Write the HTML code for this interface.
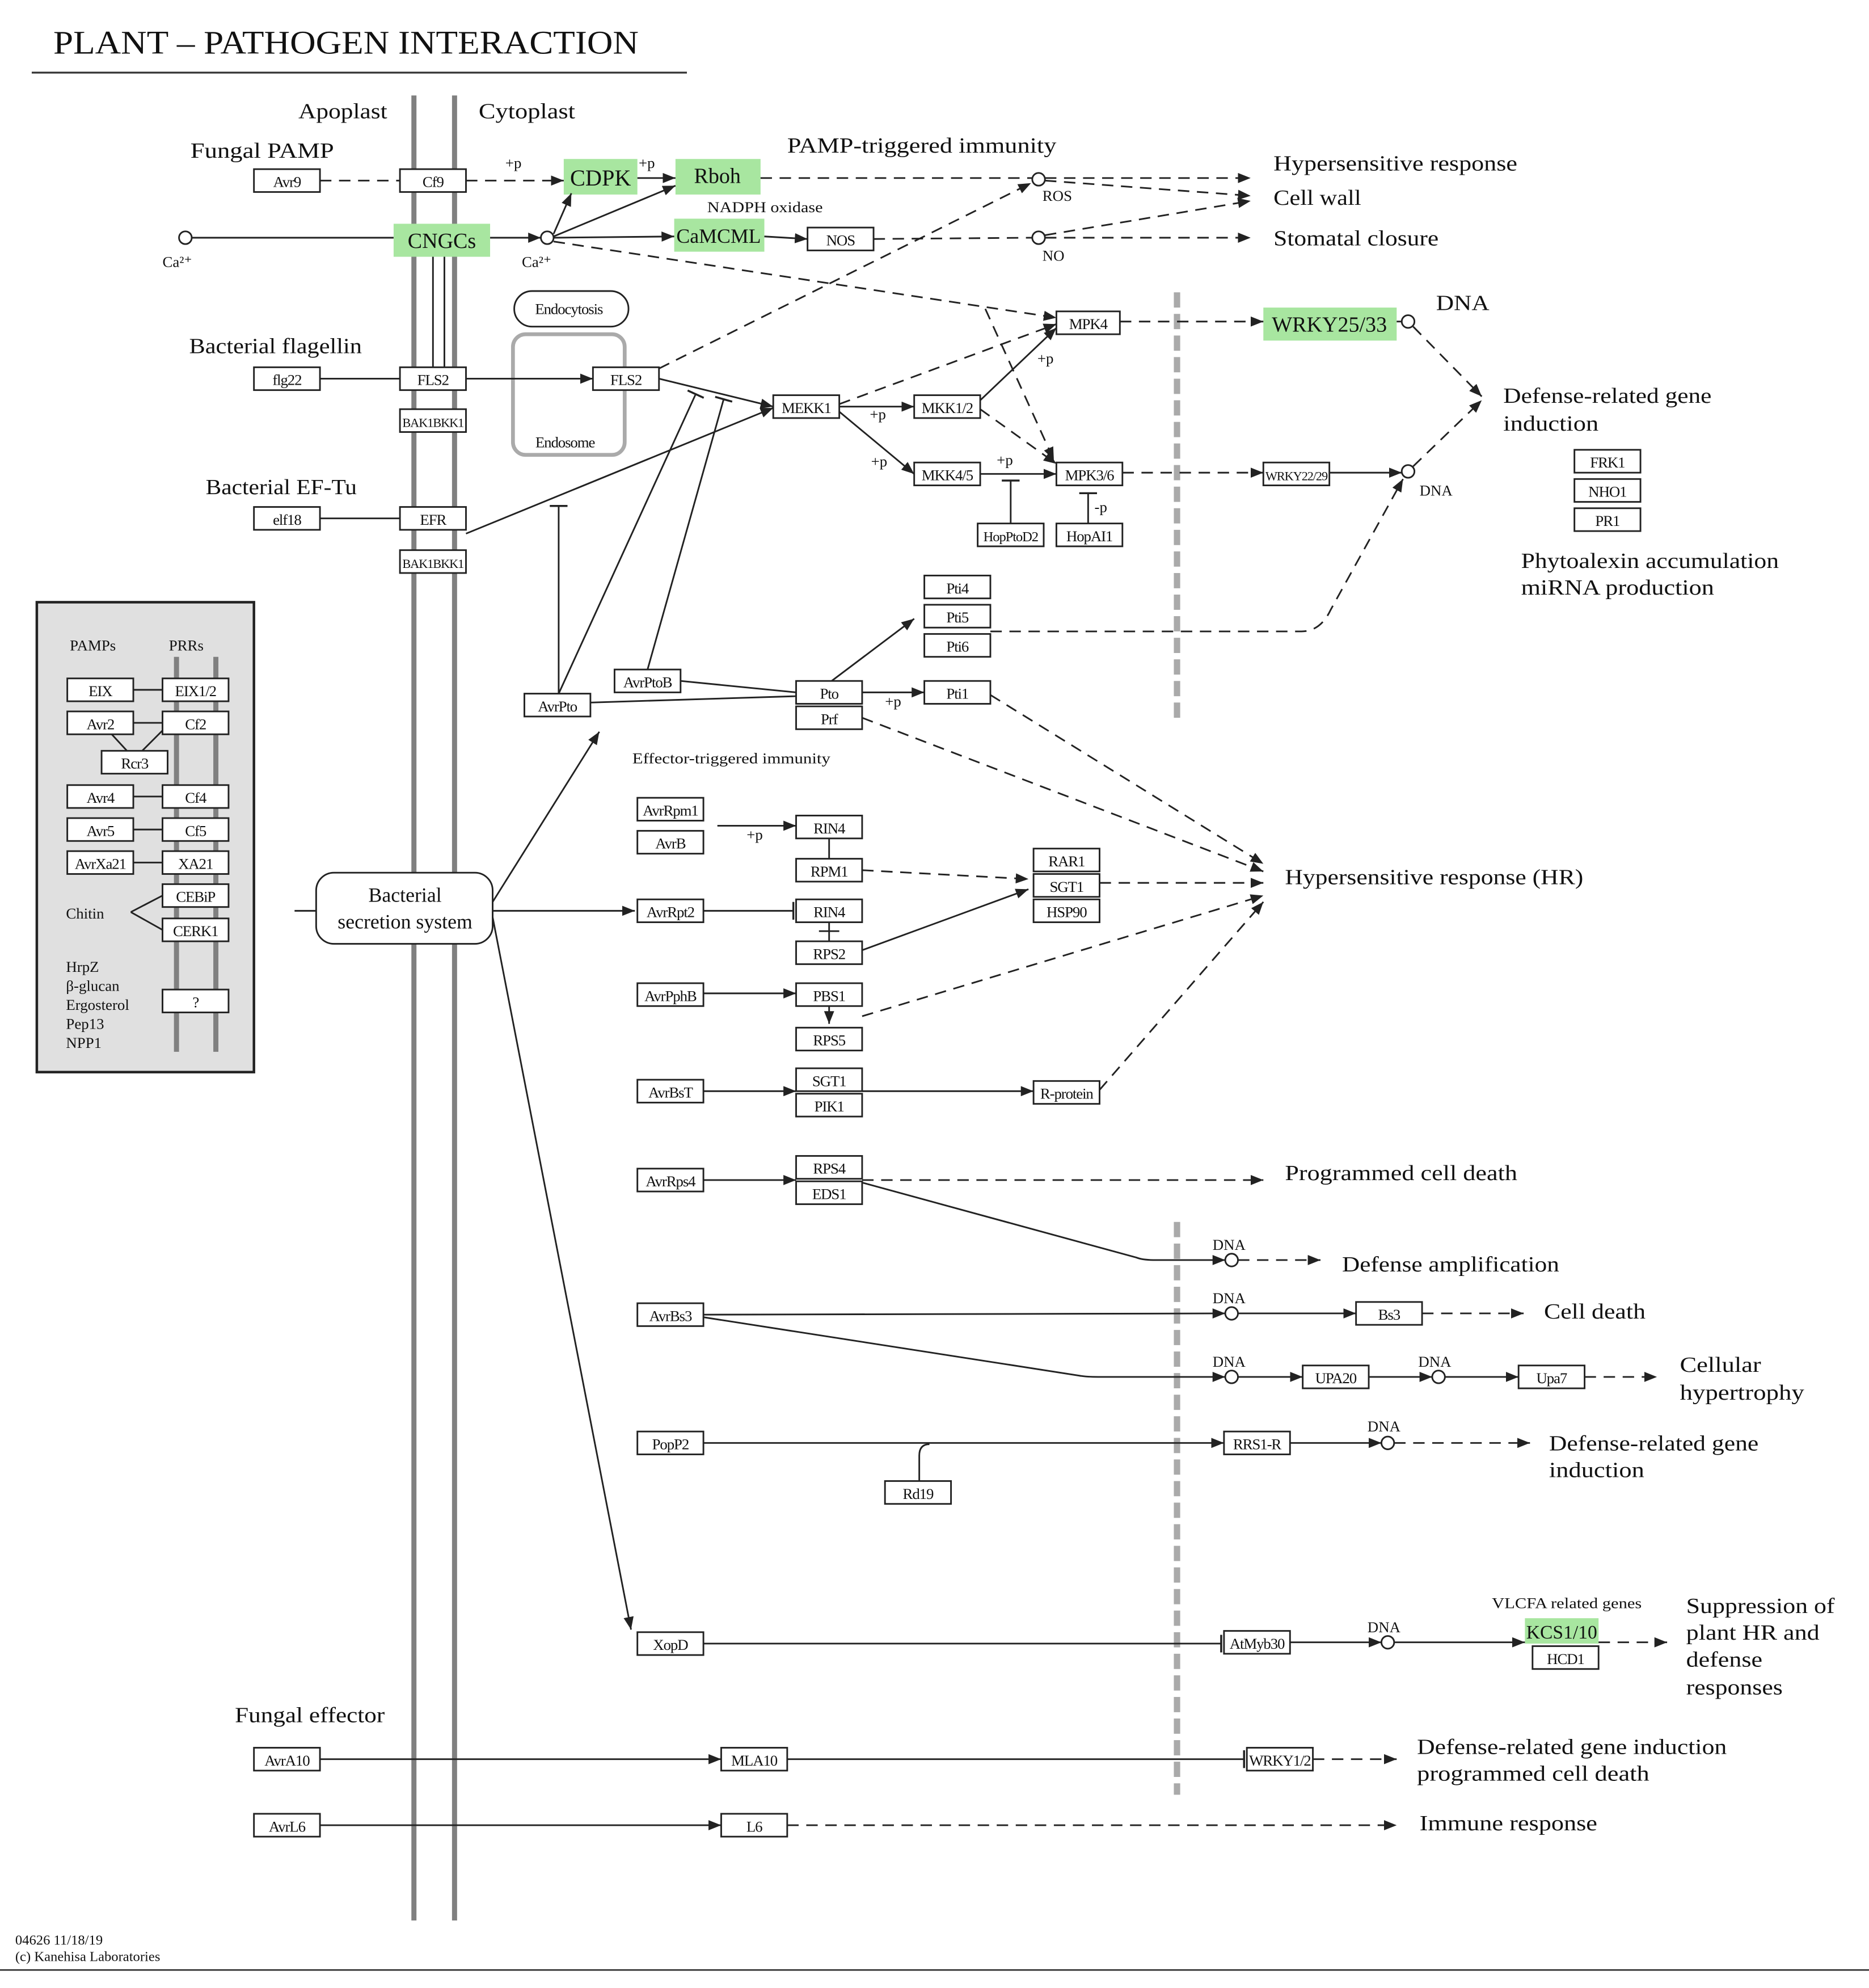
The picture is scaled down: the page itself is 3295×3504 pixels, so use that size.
<!DOCTYPE html>
<html><head><meta charset="utf-8">
<style>
html,body{margin:0;padding:0;background:#fff;}
svg{display:block;}
text{font-family:"Liberation Serif",serif;fill:#111;}
.b{fill:#fff;stroke:#222;stroke-width:1.3;}
.g{fill:#a8e6a0;stroke:none;}
.t{font-size:12px;text-anchor:middle;letter-spacing:-0.5px;}
.tg{font-size:17px;text-anchor:middle;}
.l{font-size:17px;}
.s{font-size:12px;}
.ln{stroke:#222;stroke-width:1.3;fill:none;}
.d{stroke:#222;stroke-width:1.3;fill:none;stroke-dasharray:9,6;}
.c{fill:#fff;stroke:#222;stroke-width:1.3;}
</style></head><body>
<svg width="3295" height="3504" viewBox="0 0 1472 1565" xmlns="http://www.w3.org/2000/svg">
<defs>
<marker id="a" markerWidth="10" markerHeight="8" refX="10" refY="4" orient="auto" markerUnits="userSpaceOnUse"><path d="M0,0 L10,4 L0,8 z" fill="#222"/></marker>
<marker id="i" markerWidth="2" markerHeight="14" refX="1" refY="7" orient="auto" markerUnits="userSpaceOnUse"><rect x="0" y="0" width="1.6" height="14" fill="#222"/></marker>
</defs>
<rect width="1472" height="1565" fill="#fff"/>
<!-- title -->
<text x="42" y="42" style="font-size:26px" textLength="461" lengthAdjust="spacingAndGlyphs">PLANT – PATHOGEN INTERACTION</text>
<line x1="25" y1="57" x2="541" y2="57" stroke="#333" stroke-width="1.5"/>
<text x="12" y="1531" style="font-size:11px">04626 11/18/19</text>
<text x="12" y="1544" style="font-size:11px">(c) Kanehisa Laboratories</text>
<line x1="0" y1="1551" x2="1472" y2="1551" stroke="#333" stroke-width="1.2"/>

<!-- membranes -->
<line x1="326" y1="75" x2="326" y2="1512" stroke="#808080" stroke-width="4"/>
<line x1="358" y1="75" x2="358" y2="1512" stroke="#808080" stroke-width="4"/>
<line x1="927" y1="230" x2="927" y2="566" stroke="#aaa" stroke-width="5" stroke-dasharray="12,5"/>
<line x1="927" y1="962" x2="927" y2="1413" stroke="#aaa" stroke-width="5" stroke-dasharray="12,5"/>
<line x1="341" y1="200" x2="341" y2="289" class="ln"/>
<line x1="350" y1="200" x2="350" y2="289" class="ln"/>

<!-- labels -->
<g lengthAdjust="spacingAndGlyphs">
<text x="235" y="93" class="l" textLength="70" lengthAdjust="spacingAndGlyphs">Apoplast</text>
<text x="377" y="93" class="l" textLength="76" lengthAdjust="spacingAndGlyphs">Cytoplast</text>
<text x="150" y="124" class="l" textLength="113" lengthAdjust="spacingAndGlyphs">Fungal PAMP</text>
<text x="620" y="120" class="l" textLength="212" lengthAdjust="spacingAndGlyphs">PAMP-triggered immunity</text>
<text x="557" y="167" class="s" textLength="91" lengthAdjust="spacingAndGlyphs">NADPH oxidase</text>
<text x="821" y="158" class="s">ROS</text>
<text x="128" y="210" class="s">Ca²⁺</text>
<text x="411" y="210" class="s">Ca²⁺</text>
<text x="821" y="205" class="s">NO</text>
<text x="1003" y="134" class="l" textLength="192" lengthAdjust="spacingAndGlyphs">Hypersensitive response</text>
<text x="1003" y="161" class="l" textLength="69" lengthAdjust="spacingAndGlyphs">Cell wall</text>
<text x="1003" y="193" class="l" textLength="130" lengthAdjust="spacingAndGlyphs">Stomatal closure</text>
<text x="1131" y="244" class="l" textLength="42" lengthAdjust="spacingAndGlyphs">DNA</text>
<text x="1184" y="317" class="l" textLength="164" lengthAdjust="spacingAndGlyphs">Defense-related gene</text>
<text x="1184" y="339" class="l" textLength="75" lengthAdjust="spacingAndGlyphs">induction</text>
<text x="1118" y="390" class="s">DNA</text>
<text x="1198" y="447" class="l" textLength="203" lengthAdjust="spacingAndGlyphs">Phytoalexin accumulation</text>
<text x="1198" y="468" class="l" textLength="152" lengthAdjust="spacingAndGlyphs">miRNA production</text>
<text x="149" y="278" class="l" textLength="136" lengthAdjust="spacingAndGlyphs">Bacterial flagellin</text>
<text x="162" y="389" class="l" textLength="119" lengthAdjust="spacingAndGlyphs">Bacterial EF-Tu</text>
<text x="498" y="601" class="s" textLength="156" lengthAdjust="spacingAndGlyphs">Effector-triggered immunity</text>
<text x="1012" y="696" class="l" textLength="235" lengthAdjust="spacingAndGlyphs">Hypersensitive response (HR)</text>
<text x="1012" y="929" class="l" textLength="183" lengthAdjust="spacingAndGlyphs">Programmed cell death</text>
<text x="955" y="984" class="s">DNA</text>
<text x="1057" y="1001" class="l" textLength="171" lengthAdjust="spacingAndGlyphs">Defense amplification</text>
<text x="955" y="1026" class="s">DNA</text>
<text x="1216" y="1038" class="l" textLength="80" lengthAdjust="spacingAndGlyphs">Cell death</text>
<text x="955" y="1076" class="s">DNA</text>
<text x="1117" y="1076" class="s">DNA</text>
<text x="1323" y="1080" class="l" textLength="64" lengthAdjust="spacingAndGlyphs">Cellular</text>
<text x="1323" y="1102" class="l" textLength="98" lengthAdjust="spacingAndGlyphs">hypertrophy</text>
<text x="1077" y="1127" class="s">DNA</text>
<text x="1220" y="1142" class="l" textLength="165" lengthAdjust="spacingAndGlyphs">Defense-related gene</text>
<text x="1220" y="1163" class="l" textLength="75" lengthAdjust="spacingAndGlyphs">induction</text>
<text x="1175" y="1266" class="s" textLength="118" lengthAdjust="spacingAndGlyphs">VLCFA related genes</text>
<text x="1077" y="1285" class="s">DNA</text>
<text x="1328" y="1270" class="l" textLength="117" lengthAdjust="spacingAndGlyphs">Suppression of</text>
<text x="1328" y="1291" class="l" textLength="105" lengthAdjust="spacingAndGlyphs">plant HR and</text>
<text x="1328" y="1312" class="l" textLength="60" lengthAdjust="spacingAndGlyphs">defense</text>
<text x="1328" y="1334" class="l" textLength="76" lengthAdjust="spacingAndGlyphs">responses</text>
<text x="185" y="1356" class="l" textLength="118" lengthAdjust="spacingAndGlyphs">Fungal effector</text>
<text x="1116" y="1381" class="l" textLength="244" lengthAdjust="spacingAndGlyphs">Defense-related gene induction</text>
<text x="1116" y="1402" class="l" textLength="183" lengthAdjust="spacingAndGlyphs">programmed cell death</text>
<text x="1118" y="1441" class="l" textLength="140" lengthAdjust="spacingAndGlyphs">Immune response</text>
</g>
<text x="398" y="132" class="s">+p</text>
<text x="503" y="132" class="s">+p</text>
<text x="685" y="330" class="s">+p</text>
<text x="686" y="367" class="s">+p</text>
<text x="817" y="286" class="s">+p</text>
<text x="785" y="366" class="s">+p</text>
<text x="862" y="403" class="s">-p</text>
<text x="697" y="556" class="s">+p</text>
<text x="588" y="661" class="s">+p</text>

<!-- endocytosis -->
<rect x="405" y="229" width="90" height="28" rx="14" class="b"/>
<text x="448" y="247" class="t">Endocytosis</text>
<rect x="404" y="263" width="88" height="95" rx="10" fill="none" stroke="#aaa" stroke-width="3"/>
<text x="445" y="352" class="t">Endosome</text>

<!-- left panel -->
<rect x="29" y="474" width="171" height="370" fill="#e0e0e0" stroke="#222" stroke-width="2"/>
<line x1="139" y1="517" x2="139" y2="828" stroke="#808080" stroke-width="4"/>
<line x1="170" y1="517" x2="170" y2="828" stroke="#808080" stroke-width="4"/>
<text x="55" y="512" class="s">PAMPs</text>
<text x="133" y="512" class="s">PRRs</text>
<text x="52" y="723" class="s">Chitin</text>
<text x="52" y="765" class="s">HrpZ</text>
<text x="52" y="780" class="s">β-glucan</text>
<text x="52" y="795" class="s">Ergosterol</text>
<text x="52" y="810" class="s">Pep13</text>
<text x="52" y="825" class="s">NPP1</text>
<line x1="105" y1="543" x2="128" y2="543" class="ln"/>
<line x1="105" y1="569" x2="128" y2="569" class="ln"/>
<line x1="88" y1="578" x2="100" y2="591" class="ln"/>
<line x1="128" y1="575" x2="112" y2="591" class="ln"/>
<line x1="105" y1="627" x2="128" y2="627" class="ln"/>
<line x1="105" y1="653" x2="128" y2="653" class="ln"/>
<line x1="105" y1="679" x2="128" y2="679" class="ln"/>
<line x1="103" y1="718" x2="128" y2="705" class="ln"/>
<line x1="103" y1="718" x2="128" y2="732" class="ln"/>

<!-- bacterial secretion system -->
<rect x="249" y="687" width="139" height="56" rx="14" class="b"/>
<text x="319" y="710" class="tg" style="font-size:16px">Bacterial</text>
<text x="319" y="731" class="tg" style="font-size:16px">secretion system</text>

<!-- green boxes -->
<rect x="444" y="125" width="58" height="28" class="g"/><text x="473" y="146" class="tg" style="font-size:18px">CDPK</text>
<rect x="532" y="125" width="67" height="28" class="g"/><text x="565" y="144" class="tg">Rboh</text>
<rect x="310" y="176" width="76" height="26" class="g"/><text x="348" y="195" class="tg">CNGCs</text>
<rect x="531" y="172" width="71" height="26" class="g"/><text x="566" y="191" class="tg" style="font-size:16px">CaMCML</text>
<rect x="995" y="242" width="105" height="26" class="g"/><text x="1047" y="261" class="tg">WRKY25/33</text>
<rect x="1201" y="1274" width="58" height="20" class="g"/><text x="1230" y="1290" class="tg" style="font-size:15px">KCS1/10</text>

<!-- connectors -->
<line x1="252" y1="142" x2="315" y2="142" class="d"/>
<line x1="367" y1="142" x2="444" y2="142" class="d" marker-end="url(#a)"/>
<line x1="502" y1="140" x2="532" y2="140" class="ln" marker-end="url(#a)"/>
<line x1="599" y1="140" x2="813" y2="140" class="d"/>
<line x1="823" y1="140" x2="985" y2="140" class="d" marker-end="url(#a)"/>
<line x1="823" y1="142" x2="985" y2="154" class="d" marker-end="url(#a)"/>
<line x1="151" y1="187" x2="310" y2="187" class="ln"/>
<line x1="386" y1="187" x2="426" y2="187" class="ln" marker-end="url(#a)"/>
<line x1="436" y1="184" x2="450" y2="152" class="ln" marker-end="url(#a)"/>
<line x1="436" y1="186" x2="532" y2="146" class="ln" marker-end="url(#a)"/>
<line x1="436" y1="187" x2="531" y2="186" class="ln" marker-end="url(#a)"/>
<line x1="602" y1="186" x2="636" y2="188" class="ln" marker-end="url(#a)"/>
<line x1="688" y1="188" x2="813" y2="187" class="d"/>
<line x1="823" y1="187" x2="985" y2="187" class="d" marker-end="url(#a)"/>
<line x1="823" y1="185" x2="985" y2="158" class="d" marker-end="url(#a)"/>
<line x1="436" y1="190" x2="832" y2="250" class="d" marker-end="url(#a)"/>
<line x1="519" y1="290" x2="812" y2="144" class="d" marker-end="url(#a)"/>
<line x1="252" y1="298" x2="315" y2="298" class="ln"/>
<line x1="367" y1="298" x2="467" y2="298" class="ln" marker-end="url(#a)"/>
<line x1="519" y1="298" x2="609" y2="320" class="ln" marker-end="url(#a)"/>
<line x1="440" y1="546" x2="548" y2="310" class="ln" marker-end="url(#i)"/>
<line x1="510" y1="527" x2="570" y2="314" class="ln" marker-end="url(#i)"/>
<line x1="440" y1="546" x2="440" y2="398" class="ln" marker-end="url(#i)"/>
<line x1="252" y1="408" x2="315" y2="408" class="ln"/>
<line x1="367" y1="420" x2="609" y2="321" class="ln" marker-end="url(#a)"/>
<line x1="661" y1="318" x2="832" y2="255" class="d" marker-end="url(#a)"/>
<line x1="661" y1="320" x2="720" y2="320" class="ln" marker-end="url(#a)"/>
<line x1="661" y1="324" x2="720" y2="373" class="ln" marker-end="url(#a)"/>
<line x1="772" y1="315" x2="832" y2="258" class="ln" marker-end="url(#a)"/>
<line x1="772" y1="322" x2="832" y2="365" class="d" marker-end="url(#a)"/>
<line x1="776" y1="243" x2="830" y2="362" class="d" marker-end="url(#a)"/>
<line x1="772" y1="373" x2="832" y2="373" class="ln" marker-end="url(#a)"/>
<line x1="796" y1="412" x2="796" y2="378" class="ln" marker-end="url(#i)"/>
<line x1="857" y1="412" x2="857" y2="388" class="ln" marker-end="url(#i)"/>
<line x1="882" y1="253" x2="995" y2="253" class="d" marker-end="url(#a)"/>
<line x1="1100" y1="253" x2="1104" y2="253" class="ln"/>
<line x1="1113" y1="257" x2="1167" y2="312" class="d" marker-end="url(#a)"/>
<line x1="884" y1="372" x2="995" y2="372" class="d" marker-end="url(#a)"/>
<line x1="1047" y1="372" x2="1104" y2="372" class="ln" marker-end="url(#a)"/>
<line x1="1113" y1="367" x2="1167" y2="315" class="d" marker-end="url(#a)"/>
<path d="M780,497 L1025,497 Q1040,497 1048,480 L1105,377" class="d" marker-end="url(#a)"/>
<line x1="655" y1="536" x2="720" y2="487" class="ln" marker-end="url(#a)"/>
<line x1="679" y1="545" x2="728" y2="545" class="ln" marker-end="url(#a)"/>
<line x1="536" y1="536" x2="627" y2="545" class="ln"/>
<line x1="465" y1="553" x2="627" y2="548" class="ln"/>
<line x1="780" y1="547" x2="995" y2="680" class="d" marker-end="url(#a)"/>
<line x1="679" y1="565" x2="995" y2="686" class="d" marker-end="url(#a)"/>
<line x1="388" y1="710" x2="472" y2="576" class="ln" marker-end="url(#a)"/>
<line x1="232" y1="717" x2="249" y2="717" class="ln"/>
<line x1="388" y1="717" x2="500" y2="717" class="ln" marker-end="url(#a)"/>
<line x1="388" y1="722" x2="497" y2="1283" class="ln" marker-end="url(#a)"/>
<line x1="565" y1="650" x2="627" y2="650" class="ln" marker-end="url(#a)"/>
<line x1="653" y1="660" x2="653" y2="676" class="ln"/>
<line x1="679" y1="685" x2="810" y2="692" class="d" marker-end="url(#a)"/>
<line x1="866" y1="695" x2="995" y2="695" class="d" marker-end="url(#a)"/>
<line x1="554" y1="717" x2="625" y2="717" class="ln" marker-end="url(#i)"/>
<line x1="653" y1="726" x2="653" y2="741" class="ln"/>
<line x1="645" y1="733" x2="661" y2="733" class="ln"/>
<line x1="679" y1="748" x2="810" y2="700" class="ln" marker-end="url(#a)"/>
<line x1="679" y1="800" x2="995" y2="705" class="d" marker-end="url(#a)"/>
<line x1="554" y1="782" x2="627" y2="782" class="ln" marker-end="url(#a)"/>
<line x1="653" y1="792" x2="653" y2="806" class="ln" marker-end="url(#a)"/>
<line x1="554" y1="859" x2="627" y2="859" class="ln" marker-end="url(#a)"/>
<line x1="679" y1="859" x2="814" y2="859" class="ln" marker-end="url(#a)"/>
<line x1="866" y1="858" x2="995" y2="710" class="d" marker-end="url(#a)"/>
<line x1="554" y1="929" x2="627" y2="929" class="ln" marker-end="url(#a)"/>
<line x1="679" y1="929" x2="995" y2="929" class="d" marker-end="url(#a)"/>
<path d="M679,931 L895,990 Q900,992 910,992 L965,992" class="ln" marker-end="url(#a)"/>
<line x1="975" y1="992" x2="1040" y2="992" class="d" marker-end="url(#a)"/>
<line x1="554" y1="1035" x2="965" y2="1034" class="ln" marker-end="url(#a)"/>
<line x1="975" y1="1034" x2="1068" y2="1034" class="ln" marker-end="url(#a)"/>
<line x1="1120" y1="1034" x2="1200" y2="1034" class="d" marker-end="url(#a)"/>
<path d="M554,1037 L850,1083 Q855,1084 865,1084 L965,1084" class="ln" marker-end="url(#a)"/>
<line x1="975" y1="1084" x2="1026" y2="1084" class="ln" marker-end="url(#a)"/>
<line x1="1078" y1="1084" x2="1128" y2="1084" class="ln" marker-end="url(#a)"/>
<line x1="1138" y1="1084" x2="1196" y2="1084" class="ln" marker-end="url(#a)"/>
<line x1="1248" y1="1084" x2="1305" y2="1084" class="d" marker-end="url(#a)"/>
<line x1="554" y1="1136" x2="964" y2="1136" class="ln" marker-end="url(#a)"/>
<path d="M724,1166 L724,1146 Q724,1137 732,1137" class="ln"/>
<line x1="1016" y1="1136" x2="1088" y2="1136" class="ln" marker-end="url(#a)"/>
<line x1="1098" y1="1136" x2="1205" y2="1136" class="d" marker-end="url(#a)"/>
<line x1="554" y1="1294" x2="962" y2="1294" class="ln" marker-end="url(#i)"/>
<line x1="1016" y1="1293" x2="1088" y2="1293" class="ln" marker-end="url(#a)"/>
<line x1="1098" y1="1293" x2="1201" y2="1293" class="ln" marker-end="url(#a)"/>
<line x1="1259" y1="1293" x2="1313" y2="1293" class="d" marker-end="url(#a)"/>
<line x1="252" y1="1385" x2="568" y2="1385" class="ln" marker-end="url(#a)"/>
<line x1="620" y1="1385" x2="980" y2="1385" class="ln" marker-end="url(#i)"/>
<line x1="1034" y1="1385" x2="1100" y2="1385" class="d" marker-end="url(#a)"/>
<line x1="252" y1="1437" x2="568" y2="1437" class="ln" marker-end="url(#a)"/>
<line x1="620" y1="1437" x2="1100" y2="1437" class="d" marker-end="url(#a)"/>

<!-- circles -->
<circle cx="146" cy="187" r="5" class="c"/>
<circle cx="431" cy="187" r="5" class="c"/>
<circle cx="818" cy="141" r="5" class="c"/>
<circle cx="818" cy="187" r="5" class="c"/>
<circle cx="1109" cy="253" r="5" class="c"/>
<circle cx="1109" cy="371" r="5" class="c"/>
<circle cx="970" cy="992" r="5" class="c"/>
<circle cx="970" cy="1034" r="5" class="c"/>
<circle cx="970" cy="1084" r="5" class="c"/>
<circle cx="1133" cy="1084" r="5" class="c"/>
<circle cx="1093" cy="1136" r="5" class="c"/>
<circle cx="1093" cy="1293" r="5" class="c"/>

<!-- white boxes -->
<g>
<rect x="200" y="133" width="52" height="18" class="b"/><text x="226" y="147" class="t">Avr9</text>
<rect x="315" y="133" width="52" height="18" class="b"/><text x="341" y="147" class="t">Cf9</text>
<rect x="636" y="179" width="52" height="18" class="b"/><text x="662" y="193" class="t">NOS</text>
<rect x="832" y="245" width="50" height="18" class="b"/><text x="857" y="259" class="t">MPK4</text>
<rect x="200" y="289" width="52" height="18" class="b"/><text x="226" y="303" class="t">flg22</text>
<rect x="315" y="289" width="52" height="18" class="b"/><text x="341" y="303" class="t">FLS2</text>
<rect x="315" y="322" width="52" height="18" class="b"/><text x="341" y="336" class="t" style="font-size:10px">BAK1BKK1</text>
<rect x="467" y="289" width="52" height="18" class="b"/><text x="493" y="303" class="t">FLS2</text>
<rect x="609" y="311" width="52" height="18" class="b"/><text x="635" y="325" class="t">MEKK1</text>
<rect x="720" y="311" width="52" height="18" class="b"/><text x="746" y="325" class="t">MKK1/2</text>
<rect x="720" y="364" width="52" height="18" class="b"/><text x="746" y="378" class="t">MKK4/5</text>
<rect x="832" y="364" width="52" height="18" class="b"/><text x="858" y="378" class="t">MPK3/6</text>
<rect x="995" y="364" width="52" height="18" class="b"/><text x="1021" y="378" class="t" style="font-size:10px">WRKY22/29</text>
<rect x="770" y="412" width="52" height="18" class="b"/><text x="796" y="426" class="t" style="font-size:11px">HopPtoD2</text>
<rect x="832" y="412" width="52" height="18" class="b"/><text x="858" y="426" class="t">HopAI1</text>
<rect x="1240" y="354" width="52" height="18" class="b"/><text x="1266" y="368" class="t">FRK1</text>
<rect x="1240" y="377" width="52" height="18" class="b"/><text x="1266" y="391" class="t">NHO1</text>
<rect x="1240" y="400" width="52" height="18" class="b"/><text x="1266" y="414" class="t">PR1</text>
<rect x="200" y="399" width="52" height="18" class="b"/><text x="226" y="413" class="t">elf18</text>
<rect x="315" y="399" width="52" height="18" class="b"/><text x="341" y="413" class="t">EFR</text>
<rect x="315" y="433" width="52" height="18" class="b"/><text x="341" y="447" class="t" style="font-size:10px">BAK1BKK1</text>
<rect x="728" y="453" width="52" height="18" class="b"/><text x="754" y="467" class="t">Pti4</text>
<rect x="728" y="476" width="52" height="18" class="b"/><text x="754" y="490" class="t">Pti5</text>
<rect x="728" y="499" width="52" height="18" class="b"/><text x="754" y="513" class="t">Pti6</text>
<rect x="484" y="527" width="52" height="18" class="b"/><text x="510" y="541" class="t">AvrPtoB</text>
<rect x="413" y="546" width="52" height="18" class="b"/><text x="439" y="560" class="t">AvrPto</text>
<rect x="627" y="536" width="52" height="18" class="b"/><text x="653" y="550" class="t">Pto</text>
<rect x="627" y="556" width="52" height="18" class="b"/><text x="653" y="570" class="t">Prf</text>
<rect x="728" y="536" width="52" height="18" class="b"/><text x="754" y="550" class="t">Pti1</text>
<rect x="53" y="534" width="52" height="18" class="b"/><text x="79" y="548" class="t">EIX</text>
<rect x="128" y="534" width="52" height="18" class="b"/><text x="154" y="548" class="t">EIX1/2</text>
<rect x="53" y="560" width="52" height="18" class="b"/><text x="79" y="574" class="t">Avr2</text>
<rect x="128" y="560" width="52" height="18" class="b"/><text x="154" y="574" class="t">Cf2</text>
<rect x="80" y="591" width="52" height="18" class="b"/><text x="106" y="605" class="t">Rcr3</text>
<rect x="53" y="618" width="52" height="18" class="b"/><text x="79" y="632" class="t">Avr4</text>
<rect x="128" y="618" width="52" height="18" class="b"/><text x="154" y="632" class="t">Cf4</text>
<rect x="53" y="644" width="52" height="18" class="b"/><text x="79" y="658" class="t">Avr5</text>
<rect x="128" y="644" width="52" height="18" class="b"/><text x="154" y="658" class="t">Cf5</text>
<rect x="53" y="670" width="52" height="18" class="b"/><text x="79" y="684" class="t">AvrXa21</text>
<rect x="128" y="670" width="52" height="18" class="b"/><text x="154" y="684" class="t">XA21</text>
<rect x="128" y="696" width="52" height="18" class="b"/><text x="154" y="710" class="t">CEBiP</text>
<rect x="128" y="723" width="52" height="18" class="b"/><text x="154" y="737" class="t">CERK1</text>
<rect x="128" y="779" width="52" height="18" class="b"/><text x="154" y="793" class="t">?</text>
<rect x="502" y="628" width="52" height="18" class="b"/><text x="528" y="642" class="t">AvrRpm1</text>
<rect x="502" y="654" width="52" height="18" class="b"/><text x="528" y="668" class="t">AvrB</text>
<rect x="627" y="642" width="52" height="18" class="b"/><text x="653" y="656" class="t">RIN4</text>
<rect x="627" y="676" width="52" height="18" class="b"/><text x="653" y="690" class="t">RPM1</text>
<rect x="814" y="668" width="52" height="18" class="b"/><text x="840" y="682" class="t">RAR1</text>
<rect x="814" y="688" width="52" height="18" class="b"/><text x="840" y="702" class="t">SGT1</text>
<rect x="814" y="708" width="52" height="18" class="b"/><text x="840" y="722" class="t">HSP90</text>
<rect x="502" y="708" width="52" height="18" class="b"/><text x="528" y="722" class="t">AvrRpt2</text>
<rect x="627" y="708" width="52" height="18" class="b"/><text x="653" y="722" class="t">RIN4</text>
<rect x="627" y="741" width="52" height="18" class="b"/><text x="653" y="755" class="t">RPS2</text>
<rect x="502" y="774" width="52" height="18" class="b"/><text x="528" y="788" class="t">AvrPphB</text>
<rect x="627" y="774" width="52" height="18" class="b"/><text x="653" y="788" class="t">PBS1</text>
<rect x="627" y="809" width="52" height="18" class="b"/><text x="653" y="823" class="t">RPS5</text>
<rect x="502" y="850" width="52" height="18" class="b"/><text x="528" y="864" class="t">AvrBsT</text>
<rect x="627" y="841" width="52" height="18" class="b"/><text x="653" y="855" class="t">SGT1</text>
<rect x="627" y="861" width="52" height="18" class="b"/><text x="653" y="875" class="t">PIK1</text>
<rect x="814" y="851" width="52" height="18" class="b"/><text x="840" y="865" class="t">R-protein</text>
<rect x="502" y="920" width="52" height="18" class="b"/><text x="528" y="934" class="t">AvrRps4</text>
<rect x="627" y="910" width="52" height="18" class="b"/><text x="653" y="924" class="t">RPS4</text>
<rect x="627" y="930" width="52" height="18" class="b"/><text x="653" y="944" class="t">EDS1</text>
<rect x="502" y="1026" width="52" height="18" class="b"/><text x="528" y="1040" class="t">AvrBs3</text>
<rect x="1068" y="1025" width="52" height="18" class="b"/><text x="1094" y="1039" class="t">Bs3</text>
<rect x="1026" y="1075" width="52" height="18" class="b"/><text x="1052" y="1089" class="t">UPA20</text>
<rect x="1196" y="1075" width="52" height="18" class="b"/><text x="1222" y="1089" class="t">Upa7</text>
<rect x="502" y="1127" width="52" height="18" class="b"/><text x="528" y="1141" class="t">PopP2</text>
<rect x="964" y="1127" width="52" height="18" class="b"/><text x="990" y="1141" class="t">RRS1-R</text>
<rect x="697" y="1166" width="52" height="18" class="b"/><text x="723" y="1180" class="t">Rd19</text>
<rect x="502" y="1285" width="52" height="18" class="b"/><text x="528" y="1299" class="t">XopD</text>
<rect x="964" y="1284" width="52" height="18" class="b"/><text x="990" y="1298" class="t">AtMyb30</text>
<rect x="1207" y="1296" width="52" height="18" class="b"/><text x="1233" y="1310" class="t">HCD1</text>
<rect x="200" y="1376" width="52" height="18" class="b"/><text x="226" y="1390" class="t">AvrA10</text>
<rect x="568" y="1376" width="52" height="18" class="b"/><text x="594" y="1390" class="t">MLA10</text>
<rect x="982" y="1376" width="52" height="18" class="b"/><text x="1008" y="1390" class="t">WRKY1/2</text>
<rect x="200" y="1428" width="52" height="18" class="b"/><text x="226" y="1442" class="t">AvrL6</text>
<rect x="568" y="1428" width="52" height="18" class="b"/><text x="594" y="1442" class="t">L6</text>
</g>
</svg>
</body></html>
